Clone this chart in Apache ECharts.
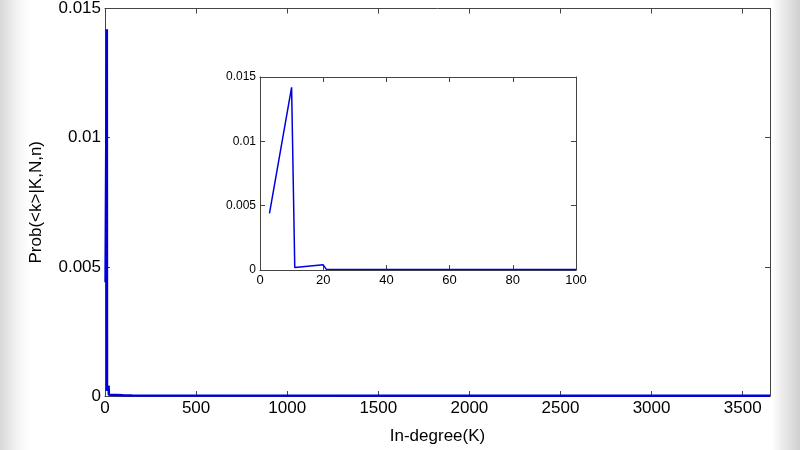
<!DOCTYPE html>
<html><head><meta charset="utf-8">
<script src="https://cdn.jsdelivr.net/npm/echarts@6/dist/echarts.min.js"></script>
<style>
html,body{margin:0;padding:0;}
#c{width:800px;height:450px;background:linear-gradient(to right,#d8d8d8 0px,#f4f4f4 18px,#fff 30px,#fff 772px,#ececec 782px,#d0d0d0 800px);}
</style></head><body>
<div id="c"></div>
<script>
var mainData = [[3,0.0044],[10,0.0142],[11,0.0002],[20,0.0004],[21,0.00005],[100,0.00003],[150,0.00002],[3650,0.00001]];
var insetData = [[3,0.0044],[10,0.0142],[11,0.0002],[20,0.0004],[21,0.00005],[100,0.00003]];
var font = 'Liberation Sans';
var chart = echarts.init(document.getElementById('c'));
var fmt = function(v){return String(+v.toFixed(3));};
function xAxes(gi,max,interval,fs,name,showMax,gap){
  return [{gridIndex:gi,type:'value',min:0,max:max,interval:interval,position:'bottom',
    name:name,nameLocation:'middle',nameGap:gap,nameTextStyle:{fontFamily:font,fontSize:17,color:'#000'},
    axisLine:{onZero:false,lineStyle:{color:'#444'}},axisTick:{inside:true,length:5,lineStyle:{color:'#444'}},
    axisLabel:{fontFamily:font,fontSize:fs,color:'#000',margin:4,showMaxLabel:showMax,formatter:fmt},splitLine:{show:false}},
   {gridIndex:gi,type:'value',min:0,max:max,interval:interval,position:'top',
    axisLine:{onZero:false,lineStyle:{color:'#444'}},axisTick:{inside:true,length:5,lineStyle:{color:'#444'}},
    axisLabel:{show:false},splitLine:{show:false}}];
}
function yAxes(gi,fs,name){
  return [{gridIndex:gi,type:'value',min:0,max:0.015,interval:0.005,position:'left',
    name:name,nameLocation:'middle',nameGap:60,nameTextStyle:{fontFamily:font,fontSize:17,color:'#000'},
    axisLine:{onZero:false,lineStyle:{color:'#444'}},axisTick:{inside:true,length:5,lineStyle:{color:'#444'}},
    axisLabel:{fontFamily:font,fontSize:fs,color:'#000',margin:4,formatter:fmt},splitLine:{show:false}},
   {gridIndex:gi,type:'value',min:0,max:0.015,interval:0.005,position:'right',
    axisLine:{onZero:false,lineStyle:{color:'#444'}},axisTick:{inside:true,length:5,lineStyle:{color:'#444'}},
    axisLabel:{show:false},splitLine:{show:false}}];
}
chart.setOption({
  animation:false,
  grid:[{left:105,right:30,top:6,bottom:54},{left:260,right:224,top:77,bottom:180,backgroundColor:'#fff',show:true,borderWidth:0}],
  xAxis:xAxes(0,3650,500,17,'In-degree(K)',false,32).concat(xAxes(1,100,20,13,'',true,20)),
  yAxis:yAxes(0,17,'Prob(<k>|K,N,n)').concat(yAxes(1,12,'')),
  series:[
    {type:'line',xAxisIndex:0,yAxisIndex:0,data:mainData,showSymbol:false,lineStyle:{color:'#0000dd',width:2.5},z:1},
    {type:'line',xAxisIndex:2,yAxisIndex:2,data:insetData,showSymbol:false,lineStyle:{color:'#0000dd',width:1.5},z:5}
  ]
});
</script></body></html>
